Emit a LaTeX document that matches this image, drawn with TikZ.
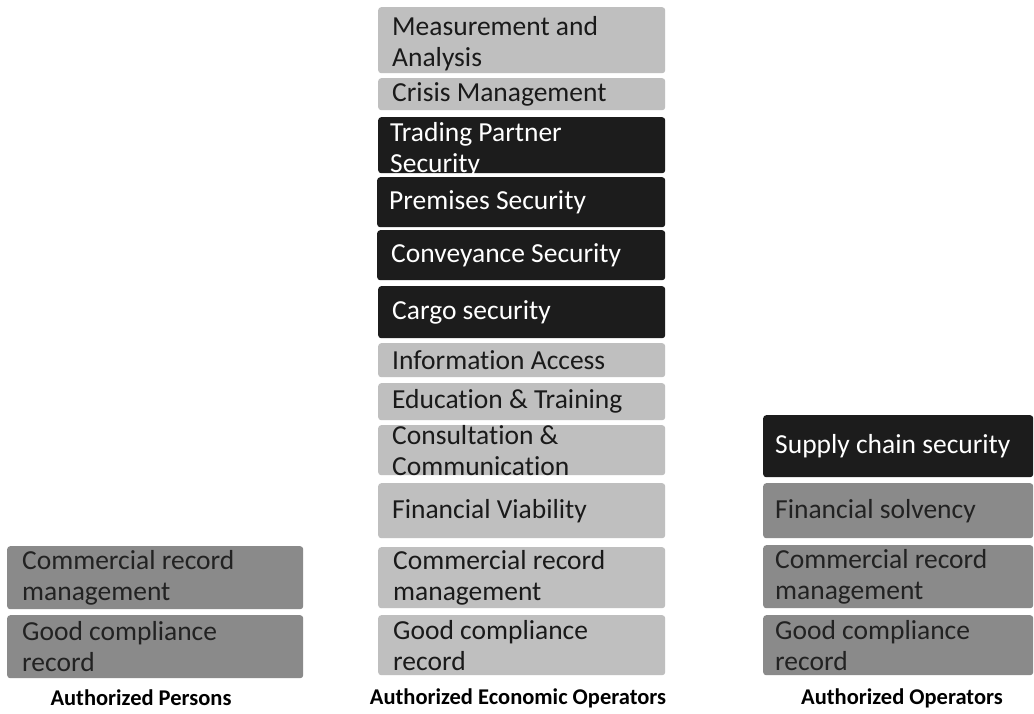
\documentclass[tikz,border=0pt]{standalone}
\usepackage{fontspec}
\setmainfont{Carlito}[Ligatures=NoCommon]
\definecolor{lightbox}{HTML}{BFBFBF}
\definecolor{midbox}{HTML}{8A8A8A}
\definecolor{darkbox}{HTML}{1C1C1C}
\definecolor{darktext}{HTML}{1A1A1A}
\definecolor{midtext}{HTML}{222222}
\begin{document}
\begin{tikzpicture}[x=1pt,y=-1pt,
  panel/.style={rounded corners=3pt, inner sep=0pt, anchor=north west, draw=none},
  lightp/.style={panel, fill=lightbox},
  midp/.style={panel, fill=midbox},
  darkp/.style={panel, fill=darkbox},
  label/.style={anchor=west, inner xsep=0pt, inner ysep=0pt, align=left, font=\fontsize{27.5}{31}\selectfont},
  ltext/.style={label, text=darktext},
  mtext/.style={label, text=midtext},
  dtext/.style={label, text=white},
  caption/.style={font=\fontsize{22.5}{26}\selectfont\bfseries, text=black, inner sep=0pt}
]
\useasboundingbox (0,0) rectangle (1034,713);
\fill[white] (0,0) rectangle (1034,713);

% ---- middle column: Authorized Economic Operators
\node[lightp, minimum width=287pt, minimum height=66pt] (m1) at (378,7) {};
\node[lightp, minimum width=287pt, minimum height=32pt] (m2) at (378,78) {};
\node[darkp,  minimum width=287pt, minimum height=56pt] (m3) at (378,117) {};
\node[darkp,  minimum width=288pt, minimum height=50pt] (m4) at (377,177) {};
\node[darkp,  minimum width=288pt, minimum height=50pt] (m5) at (377,230) {};
\node[darkp,  minimum width=287pt, minimum height=52pt] (m6) at (378,286) {};
\node[lightp, minimum width=287pt, minimum height=34pt] (m7) at (378,343) {};
\node[lightp, minimum width=287pt, minimum height=37pt] (m8) at (378,383) {};
\node[lightp, minimum width=287pt, minimum height=50pt] (m9) at (378,425) {};
\node[lightp, minimum width=287pt, minimum height=55pt] (m10) at (378,483) {};
\node[lightp, minimum width=287pt, minimum height=61pt] (m11) at (378,547) {};
\node[lightp, minimum width=287pt, minimum height=60pt] (m12) at (378,615) {};

\node[ltext] (m1t) at ([xshift=14pt,yshift=-3pt]m1.west) {Measurement and\\Analysis};
\node[ltext] (m2t) at ([xshift=14pt]m2.west) {Crisis Management};
\node[dtext] (m3t) at ([xshift=12pt,yshift=-4pt]m3.west) {Trading Partner\\Security};
\node[dtext] (m4t) at ([xshift=12pt]m4.west) {Premises Security};
\node[dtext] (m5t) at ([xshift=14pt]m5.west) {Conveyance Security};
\node[dtext] (m6t) at ([xshift=14pt]m6.west) {Cargo security};
\node[ltext] (m7t) at ([xshift=14pt]m7.west) {Information Access};
\node[ltext] (m8t) at ([xshift=14pt]m8.west) {Education \& Training};
\node[ltext] (m9t) at ([xshift=14pt]m9.west) {Consultation \&\\Communication};
\node[ltext] (m10t) at ([xshift=14pt]m10.west) {Financial Viability};
\node[ltext] (m11t) at ([xshift=15pt]m11.west) {Commercial record\\management};
\node[ltext] (m12t) at ([xshift=15pt]m12.west) {Good compliance\\record};

% ---- left column: Authorized Persons
\node[midp, minimum width=296pt, minimum height=63pt] (l1) at (7,546) {};
\node[midp, minimum width=296pt, minimum height=63pt] (l2) at (7,615) {};
\node[mtext] (l1t) at ([xshift=15pt]l1.west) {Commercial record\\management};
\node[mtext] (l2t) at ([xshift=15pt]l2.west) {Good compliance\\record};

% ---- right column: Authorized Operators
\node[darkp, minimum width=270pt, minimum height=62pt] (r1) at (763,415) {};
\node[midp,  minimum width=270pt, minimum height=55pt] (r2) at (763,483) {};
\node[midp,  minimum width=270pt, minimum height=63pt] (r3) at (763,545) {};
\node[midp,  minimum width=270pt, minimum height=60pt] (r4) at (763,615) {};
\node[dtext] (r1t) at ([xshift=12pt]r1.west) {Supply chain security};
\node[mtext] (r2t) at ([xshift=12pt]r2.west) {Financial solvency};
\node[mtext] (r3t) at ([xshift=12pt]r3.west) {Commercial record\\management};
\node[mtext] (r4t) at ([xshift=12pt]r4.west) {Good compliance\\record};

% ---- captions
\node[caption] (capL) at (141,698) {Authorized Persons};
\node[caption] (capM) at (518,698) {Authorized Economic Operators};
\node[caption] (capR) at (902,698) {Authorized Operators};
\end{tikzpicture}
\end{document}
